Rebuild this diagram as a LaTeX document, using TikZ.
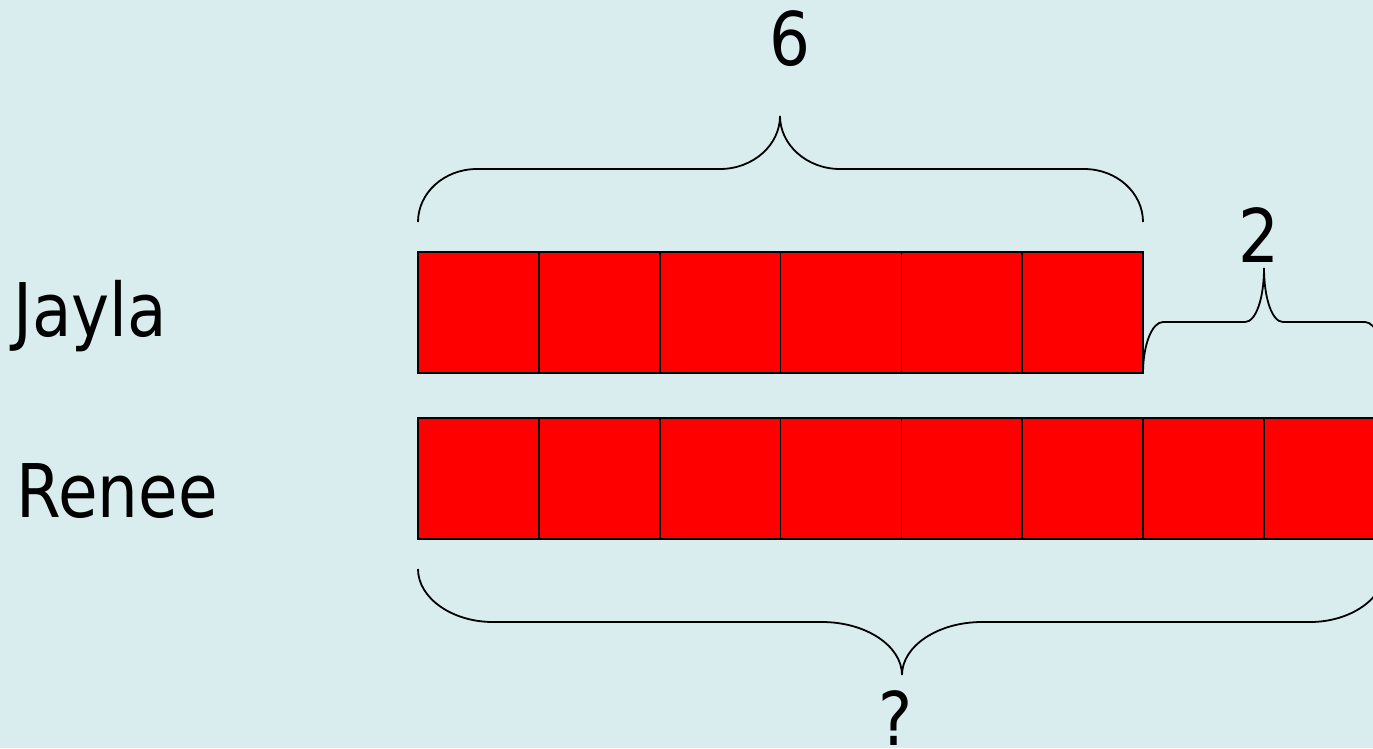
\documentclass[tikz,border=0pt]{standalone}
\usepackage{fontspec}
\setmainfont{DejaVu Sans}[FakeStretch=0.87]
\definecolor{bgc}{RGB}{218,237,238}
\definecolor{cellred}{RGB}{255,0,0}
\begin{document}
\begin{tikzpicture}[x=1pt,y=-1pt,
  cell/.style={draw=black,fill=cellred,line width=1.6pt,minimum width=120.85pt,minimum height=121pt,inner sep=0pt,outer sep=0pt,anchor=north west},
  lbl/.style={inner sep=0pt,font=\fontsize{74}{80}\selectfont},
  brace/.style={draw=black,line width=1.8pt}]
\useasboundingbox (0,0) rectangle (1373,748);
\fill[bgc] (0,0) rectangle (1373,748);
\begin{scope}
\clip (0,0) rectangle (1373,748);
% Jayla row
\foreach \i in {0,...,5} {
  \node[cell] (j\i) at ({418+120.85*\i},252) {};
}
% Renee row
\foreach \i in {0,...,7} {
  \node[cell] (r\i) at ({418+120.85*\i},418) {};
}
% top brace (6)
\draw[brace] (418,222) .. controls (418,193) and (444,169) .. (477,169) -- (720,169)
  .. controls (753,169) and (780,145) .. (780,116)
  .. controls (780,145) and (807,169) .. (840,169) -- (1084,169)
  .. controls (1117,169) and (1143,193) .. (1143,222);
% right brace (2)
\draw[brace] (1143,373) .. controls (1143,345) and (1152,322) .. (1163,322) -- (1245,322)
  .. controls (1256,322) and (1264,298) .. (1264,268)
  .. controls (1264,298) and (1272,322) .. (1283,322) -- (1365,322)
  .. controls (1376,322) and (1385,345) .. (1385,373);
% bottom brace (?)
\draw[brace] (418,569) .. controls (418,598) and (452,622) .. (493,622) -- (822,622)
  .. controls (866,622) and (902,646) .. (902,675)
  .. controls (902,646) and (938,622) .. (982,622) -- (1310,622)
  .. controls (1351,622) and (1385,598) .. (1385,569);
% labels
\node[lbl,anchor=base west] (jayla) at (13,336) {Jayla};
\node[lbl,anchor=base west] (renee) at (16,517) {Renee};
\node[lbl,anchor=base] (six) at (790,65) {6};
\node[lbl,anchor=base] (two) at (1259,262) {2};
\node[lbl,anchor=base] (q) at (896,745) {?};
\end{scope}
\end{tikzpicture}
\end{document}
